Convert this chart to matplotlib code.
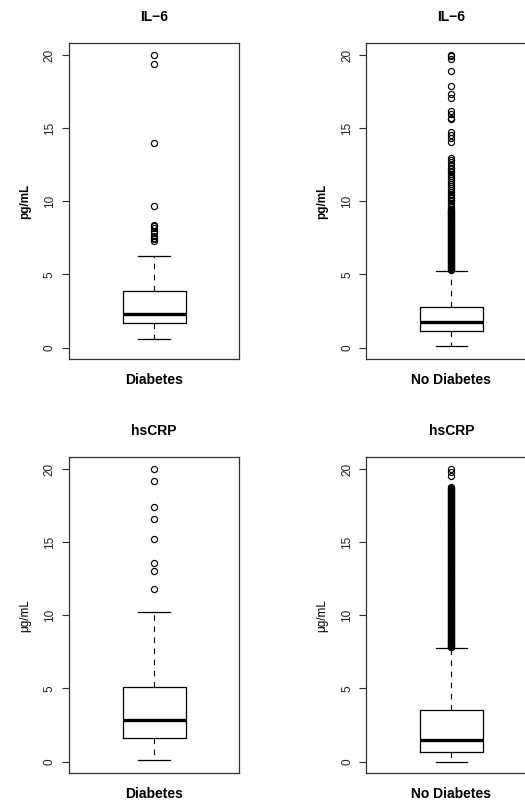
import matplotlib
matplotlib.use("Agg")
import matplotlib.pyplot as plt

plt.rcParams['font.family'] = ['Liberation Sans', 'DejaVu Sans']

# ---- data ----
titles = ["IL\u22126", "IL\u22126", "hsCRP", "hsCRP"]
groups = ["Diabetes", "No Diabetes", "Diabetes", "No Diabetes"]
units = ["pg/mL", "pg/mL", "\u03bcg/mL", "\u03bcg/mL"]
unit_bold = [True, True, False, False]

medians = [2.33, 1.78, 2.84, 1.51]
q1s = [1.69, 1.12, 1.60, 0.66]
q3s = [3.89, 2.79, 5.10, 3.50]
whis_lo = [0.57, 0.11, 0.11, 0.0]
whis_hi = [6.26, 5.26, 10.25, 7.78]

fliers_il6_diab = [20.0, 19.4, 14.0, 9.7, 8.4, 8.3, 8.2, 8.0, 7.8, 7.6, 7.5, 7.4, 7.3]
fliers_il6_nodiab = [
    20.0, 19.9, 19.75, 18.9, 17.87, 17.35, 17.03, 16.2, 15.98, 15.7, 15.6,
    14.74, 14.5, 14.3, 14.03, 12.96, 12.8, 12.69, 12.5,
    12.3, 12.2, 12.1, 12.0, 11.85, 11.7, 11.6, 11.45, 11.3, 11.2, 11.05,
    10.9, 10.8, 10.65, 10.5, 10.4, 10.3, 10.2, 10.1, 10.0, 9.9, 9.75, 9.6,
    9.5, 9.4, 9.3, 9.2, 9.1, 9.0, 8.9, 8.8, 8.7, 8.6, 8.5, 8.4, 8.3, 8.2,
    8.1, 8.0, 7.9, 7.8, 7.7, 7.6, 7.5, 7.4, 7.3, 7.2, 7.1, 7.0, 6.9, 6.8,
    6.7, 6.6, 6.5, 6.4, 6.3, 6.2, 6.1, 6.0, 5.9, 5.8, 5.7, 5.6, 5.5, 5.4, 5.3,
    9.45, 9.35, 9.25, 9.15, 9.05, 8.95, 8.85, 8.75, 8.65, 8.55, 8.45, 8.35,
    8.25, 8.15, 8.05, 7.95, 7.85, 7.75, 7.65, 7.55, 7.45, 7.35, 7.25, 7.15,
    7.05, 6.95, 6.85, 6.75, 6.65, 6.55, 6.45, 6.35, 6.25, 6.15, 6.05, 5.95,
    5.85, 5.75, 5.65, 5.55, 5.45, 5.35,
]
fliers_crp_diab = [20.0, 19.2, 17.39, 16.6, 15.2, 13.55, 13.0, 11.78]
fliers_crp_nodiab = [
    20.0, 19.8, 19.5,
    18.75, 18.65, 18.55, 18.45, 18.35, 18.25, 18.15, 18.05, 17.95, 17.85,
    17.75, 17.65, 17.55, 17.45, 17.35, 17.25, 17.15, 17.05, 16.95, 16.85,
    16.75, 16.65, 16.55, 16.45, 16.35, 16.25, 16.15, 16.05, 15.95, 15.85,
    15.75, 15.65, 15.55, 15.45, 15.35, 15.25, 15.15, 15.05, 14.95, 14.85,
    14.75, 14.65, 14.55, 14.45, 14.35, 14.25, 14.15, 14.05, 13.95, 13.85,
    13.75, 13.65, 13.55, 13.45, 13.35, 13.25, 13.15, 13.05, 12.95, 12.85,
    12.75, 12.65, 12.55, 12.45, 12.35, 12.25, 12.15, 12.05, 11.95, 11.85,
    11.75, 11.65, 11.55, 11.45, 11.35, 11.25, 11.15, 11.05, 10.95, 10.85,
    10.75, 10.65, 10.55, 10.45, 10.35, 10.25, 10.15, 10.05, 9.95, 9.85,
    9.75, 9.65, 9.55, 9.45, 9.35, 9.25, 9.15, 9.05, 8.95, 8.85, 8.75,
    8.65, 8.55, 8.45, 8.35, 8.25, 8.15, 8.05, 7.95, 7.85,
    18.7, 18.6, 18.5, 18.4, 18.3, 18.2, 18.1, 18.0, 17.9, 17.8, 17.7, 17.6,
    17.5, 17.4, 17.3, 17.2, 17.1, 17.0, 16.9, 16.8, 16.7, 16.6, 16.5, 16.4,
    16.3, 16.2, 16.1, 16.0, 15.9, 15.8, 15.7, 15.6, 15.5, 15.4, 15.3, 15.2,
    15.1, 15.0, 14.9, 14.8, 14.7, 14.6, 14.5, 14.4, 14.3, 14.2, 14.1, 14.0,
    13.9, 13.8, 13.7, 13.6, 13.5, 13.4, 13.3, 13.2, 13.1, 13.0, 12.9, 12.8,
    12.7, 12.6, 12.5, 12.4, 12.3, 12.2, 12.1, 12.0, 11.9, 11.8, 11.7, 11.6,
    11.5, 11.4, 11.3, 11.2, 11.1, 11.0, 10.9, 10.8, 10.7, 10.6, 10.5, 10.4,
    10.3, 10.2, 10.1, 10.0, 9.9, 9.8, 9.7, 9.6, 9.5, 9.4, 9.3, 9.2, 9.1,
    9.0, 8.9, 8.8, 8.7, 8.6, 8.5, 8.4, 8.3, 8.2, 8.1, 8.0, 7.9, 7.8,
]
fliers = [fliers_il6_diab, fliers_il6_nodiab, fliers_crp_diab, fliers_crp_nodiab]
yticks = [0, 5, 10, 15, 20]

# ---- layout (pixels -> figure fractions) ----
W, H = 525, 802
fig = plt.figure(figsize=(W / 100, H / 100), dpi=100)

ax_w = 170.3
ax_h = 316.0
lefts = [69.0, 366.3]
tops = [43.3, 457.3]

for i in range(4):
    r, c = divmod(i, 2)
    l = lefts[c]
    t = tops[r]
    ax = fig.add_axes([l / W, 1 - (t + ax_h) / H, ax_w / W, ax_h / H])
    stats = [dict(med=medians[i], q1=q1s[i], q3=q3s[i],
                  whislo=whis_lo[i], whishi=whis_hi[i], fliers=fliers[i])]
    ax.bxp(stats, positions=[1], widths=0.4, capwidths=0.2,
           boxprops=dict(color='black', lw=0.9),
           medianprops=dict(color='black', lw=2.4, solid_capstyle='butt'),
           whiskerprops=dict(color='black', lw=0.8, linestyle=(0, (5, 5))),
           capprops=dict(color='black', lw=0.9),
           flierprops=dict(marker='o', markerfacecolor='none',
                           markeredgecolor='black', markersize=4.4,
                           markeredgewidth=0.85, linestyle='none'))
    ax.set_xlim(0.46, 1.54)
    ax.set_ylim(-0.8, 20.8)
    ax.set_xticks([])
    ax.set_yticks(yticks)
    ax.set_yticklabels([str(v) for v in yticks], rotation=90, va='center',
                       fontsize=8.5, color='#222222')
    ax.tick_params(axis='y', length=5, width=0.8, pad=4.5, colors='#333333',
                   labelcolor='#222222')
    for s in ax.spines.values():
        s.set_linewidth(0.9)
        s.set_color('#333333')

    cx = (l + ax_w / 2) / W
    fig.text(cx, 1 - (t - 26) / H, titles[i], ha='center', va='center',
             fontsize=10, fontweight='bold')
    fig.text(cx, 1 - (t + ax_h + 21) / H, groups[i], ha='center', va='center',
             fontsize=10, fontweight='bold')
    fig.text((l - 44) / W, 1 - (t + ax_h / 2) / H, units[i], ha='center',
             va='center', rotation=90, fontsize=8.5,
             fontweight='bold' if unit_bold[i] else 'normal')

fig.savefig("out.png", dpi=100)
